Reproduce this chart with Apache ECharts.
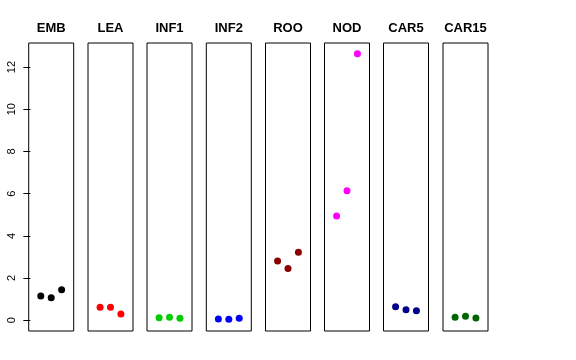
<!DOCTYPE html>
<html><head><meta charset="utf-8">
<script src="https://cdn.jsdelivr.net/npm/echarts@6/dist/echarts.min.js"></script>
<style>html,body{margin:0;padding:0;background:#fff}#c{width:576px;height:360px}</style>
</head><body><div id="c"></div>
<script>
const categories = ["EMB","LEA","INF1","INF2","ROO","NOD","CAR5","CAR15"];
const colors = ["#000000","#FF0000","#00CD00","#0000FF","#8B0000","#FF00FF","#00008B","#006400"];
const valEMB = [1.15, 1.06, 1.45];
const valLEA = [0.62, 0.62, 0.30];
const valINF1 = [0.12, 0.14, 0.09];
const valINF2 = [0.06, 0.05, 0.09];
const valROO = [2.81, 2.45, 3.22];
const valNOD = [4.94, 6.14, 12.63];
const valCAR5 = [0.64, 0.50, 0.45];
const valCAR15 = [0.14, 0.19, 0.11];
const yTicks = [0, 2, 4, 6, 8, 10, 12];
const allValues = [valEMB, valLEA, valINF1, valINF2, valROO, valNOD, valCAR5, valCAR15];

const panelLefts = [28.7, 88, 147, 206.3, 265.5, 324.5, 383.5, 443];
const panelW = 45, panelTop = 43, panelH = 288;
const font = "'Liberation Sans', Arial, sans-serif";

const grids = [], xAxes = [], yAxes = [], series = [], titles = [];
categories.forEach((cat, i) => {
  grids.push({left: panelLefts[i], top: panelTop, width: panelW, height: panelH,
    show: true, borderColor: '#000', borderWidth: 1, backgroundColor: 'transparent', containLabel: false});
  xAxes.push({type: 'value', gridIndex: i, min: -0.16, max: 4.16, show: false});
  const first = i === 0;
  yAxes.push({type: 'value', gridIndex: i, min: -0.51, max: 13.14,
    splitLine: {show: false},
    axisLine: {show: false},
    axisTick: {show: first, length: 7, lineStyle: {color: '#000', width: 1}, customValues: yTicks},
    axisLabel: {show: first, rotate: 90, margin: 11, fontSize: 11, color: '#000', fontFamily: font, customValues: yTicks},
  });
  series.push({type: 'scatter', xAxisIndex: i, yAxisIndex: i,
    data: allValues[i].map((v, k) => [k + 1, v]),
    symbol: 'circle', symbolSize: 7, itemStyle: {color: colors[i], opacity: 1}, silent: true});
  titles.push({text: cat, left: panelLefts[i] + panelW / 2, top: 22, textAlign: 'center', padding: 0,
    textStyle: {fontSize: 13, fontWeight: 'bold', color: '#000', fontFamily: font}});
});

const chart = echarts.init(document.getElementById('c'), null, {renderer: 'canvas'});
chart.setOption({animation: false, backgroundColor: '#fff', title: titles, grid: grids, xAxis: xAxes, yAxis: yAxes, series: series});
</script></body></html>
